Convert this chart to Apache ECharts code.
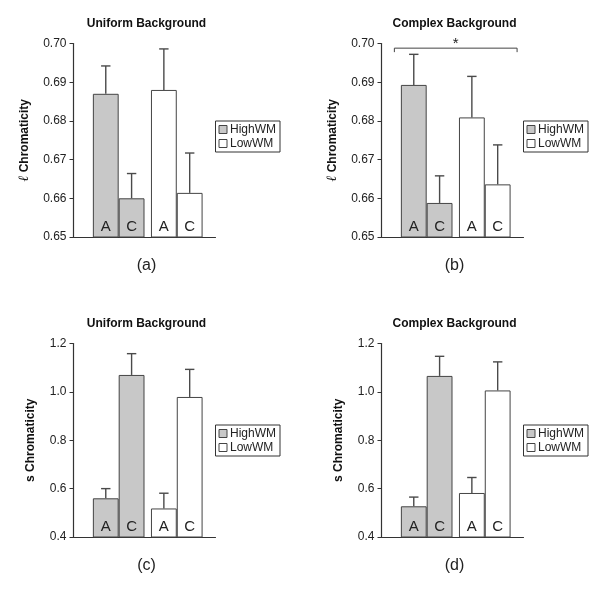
<!DOCTYPE html>
<html><head><meta charset="utf-8">
<script src="https://cdn.jsdelivr.net/npm/echarts@6/dist/echarts.min.js"></script>
<style>html,body{margin:0;padding:0;background:#fff}#c{width:600px;height:592px}</style>
</head><body><div id="c"></div>
<script>
// ---------------- data ----------------
const panelTitles = ['Uniform Background', 'Complex Background', 'Uniform Background', 'Complex Background'];
const panelLetters = ['(a)', '(b)', '(c)', '(d)'];
const groups = ['HighWM', 'LowWM'];
const conditions = ['A', 'C'];
const lTicks = ['0.65', '0.66', '0.67', '0.68', '0.69', '0.70'];
const sTicks = ['0.4', '0.6', '0.8', '1.0', '1.2'];
// order of values: HighWM A, HighWM C, LowWM A, LowWM C
const lUniformMean = [0.6870, 0.6600, 0.6880, 0.6614];
const lUniformErr  = [0.0072, 0.0064, 0.0106, 0.0103];
const lComplexMean = [0.6893, 0.6588, 0.6809, 0.6636];
const lComplexErr  = [0.0079, 0.0070, 0.0106, 0.0102];
const sUniformMean = [0.560, 1.070, 0.518, 0.979];
const sUniformErr  = [0.040, 0.088, 0.063, 0.114];
const sComplexMean = [0.527, 1.066, 0.582, 1.006];
const sComplexErr  = [0.038, 0.081, 0.064, 0.118];
const lComplexSig = { from: 0, to: 3, level: 0.6988, text: '*' };

// ---------------- layout / style ----------------
const FONT = '"Liberation Sans", Arial, Helvetica, sans-serif';
const INK = '#333';
const GRID_W = 142, GRID_H = 193.5;
const LEFTS = [73.5, 381.5];
const TOPS = [43.5, 343.5];
const LEGEND_TOPS = [121, 425];
const X_MAX = 5.5;           // axis length in bar widths
const BAR_W = GRID_W / X_MAX;
const fills = ['#c8c8c8', '#ffffff'];
function barPos(i) {        // centre of i-th bar, in bar-width units
  const g = Math.floor(i / 2), k = i % 2;
  return 0.75 + g * 2.25 + k + 0.5;
}

const panels = [
  { mean: lUniformMean, err: lUniformErr, ticks: lTicks, kind: 'l', sig: null },
  { mean: lComplexMean, err: lComplexErr, ticks: lTicks, kind: 'l', sig: lComplexSig },
  { mean: sUniformMean, err: sUniformErr, ticks: sTicks, kind: 's', sig: null },
  { mean: sComplexMean, err: sComplexErr, ticks: sTicks, kind: 's', sig: null }
];

const option = {
  animation: false,
  backgroundColor: '#fff',
  textStyle: { fontFamily: FONT },
  title: [], legend: [], grid: [], xAxis: [], yAxis: [], series: []
};

panels.forEach((p, pi) => {
  const col = pi % 2, row = Math.floor(pi / 2);
  const left = LEFTS[col], top = TOPS[row];
  const tickVals = p.ticks.map(Number);
  const yMin = tickVals[0], yMax = tickVals[tickVals.length - 1];
  const interval = tickVals[1] - tickVals[0];

  option.grid.push({ left: left, top: top, width: GRID_W, height: GRID_H, outerBoundsMode: 'none' });
  option.xAxis.push({
    gridIndex: pi, type: 'value', min: 0, max: X_MAX,
    axisLine: { show: true, onZero: false, lineStyle: { color: INK, width: 1.2 } },
    axisTick: { show: false }, axisLabel: { show: false }, splitLine: { show: false }
  });
  const nameText = p.kind === 'l' ? '{l|ℓ} {b|Chromaticity}' : '{b|s Chromaticity}';
  option.yAxis.push({
    gridIndex: pi, type: 'value', min: yMin, max: yMax, interval: interval,
    name: nameText, nameLocation: 'middle', nameRotate: 90,
    nameGap: p.kind === 'l' ? 42 : 37,
    nameTextStyle: {
      rich: {
        l: { fontFamily: '"DejaVu Serif", serif', fontStyle: 'italic', fontSize: 14, color: '#111' },
        b: { fontFamily: FONT, fontWeight: 'bold', fontSize: 12, color: '#111' }
      }
    },
    axisLine: { show: true, lineStyle: { color: INK, width: 1.2 } },
    axisTick: { show: true, length: 4, lineStyle: { color: INK, width: 1 } },
    axisLabel: {
      fontSize: 12, color: '#222', margin: 7, fontFamily: FONT,
      formatter: v => p.ticks[Math.round((v - yMin) / interval)]
    },
    splitLine: { show: false }
  });

  option.title.push({
    text: panelTitles[pi], left: left + 73, top: top - 19.5, padding: 0,
    textAlign: 'center', textVerticalAlign: 'middle',
    textStyle: { fontSize: 12, fontWeight: 'bold', color: '#111', fontFamily: FONT }
  });
  option.title.push({
    text: panelLetters[pi], left: left + 73, top: top + 222.5, padding: 0,
    textAlign: 'center', textVerticalAlign: 'middle',
    textStyle: { fontSize: 16, fontWeight: 'normal', color: '#222', fontFamily: FONT }
  });

  option.legend.push({
    data: groups, orient: 'vertical', left: left + 142, top: LEGEND_TOPS[row],
    icon: 'rect', itemWidth: 8, itemHeight: 8, itemGap: 1,
    padding: [2, 4, 2, 3], borderColor: INK, borderWidth: 1, borderRadius: 0,
    selectedMode: false,
    itemStyle: { borderColor: '#444', borderWidth: 1 },
    textStyle: { fontSize: 12, color: '#222', fontFamily: FONT, lineHeight: 13, padding: [0, 0, 0, -2] }
  });

  groups.forEach((g, gi) => {
    const data = conditions.map((c, ci) => {
      const i = gi * 2 + ci;
      return { name: c, value: [barPos(i), p.mean[i]] };
    });
    option.series.push({
      type: 'bar', name: g, xAxisIndex: pi, yAxisIndex: pi,
      data: data, barWidth: BAR_W, barGap: '-100%', clip: true,
      itemStyle: { color: fills[gi], borderColor: '#444', borderWidth: 1 },
      label: {
        show: true, position: 'insideBottom', distance: 3,
        formatter: q => q.name, fontSize: 15, color: '#222', fontFamily: FONT
      },
      emphasis: { disabled: true }
    });
  });

  option.series.push({
    type: 'custom', name: 'SEM', xAxisIndex: pi, yAxisIndex: pi, z: 3,
    data: p.mean.map((m, i) => [barPos(i), m, p.err[i]]),
    encode: { x: 0, y: 1 },
    renderItem: (params, api) => {
      const x = api.value(0), m = api.value(1), e = api.value(2);
      const a = api.coord([x, m]), b = api.coord([x, m + e]);
      const st = { stroke: '#4a4a4a', lineWidth: 1.4 };
      return {
        type: 'group', children: [
          { type: 'line', shape: { x1: a[0], y1: a[1], x2: b[0], y2: b[1] }, style: st },
          { type: 'line', shape: { x1: b[0] - 4.7, y1: b[1], x2: b[0] + 4.7, y2: b[1] }, style: st }
        ]
      };
    }
  });

  if (p.sig) {
    const s = p.sig;
    option.series.push({
      type: 'custom', name: 'sig', xAxisIndex: pi, yAxisIndex: pi, z: 3, clip: false,
      data: [[barPos(s.from) - 0.5, barPos(s.to) + 0.5, s.level]],
      encode: { x: [0, 1], y: 2 },
      renderItem: (params, api) => {
        const a = api.coord([api.value(0), api.value(2)]);
        const b = api.coord([api.value(1), api.value(2)]);
        const x1 = a[0] - 6.5, x2 = b[0] + 6.5, y = a[1];
        return {
          type: 'group', children: [
            { type: 'polyline', shape: { points: [[x1, y + 4], [x1, y], [x2, y], [x2, y + 4]] },
              style: { stroke: '#444', lineWidth: 1, fill: null } },
            { type: 'text', x: (x1 + x2) / 2, y: y + 3.5,
              style: { text: s.text, fontSize: 15, fontFamily: FONT, fill: '#222', align: 'center', verticalAlign: 'bottom' } }
          ]
        };
      }
    });
  }
});

const chart = echarts.init(document.getElementById('c'), null, { renderer: 'canvas' });
chart.setOption(option);
</script>
</body></html>
